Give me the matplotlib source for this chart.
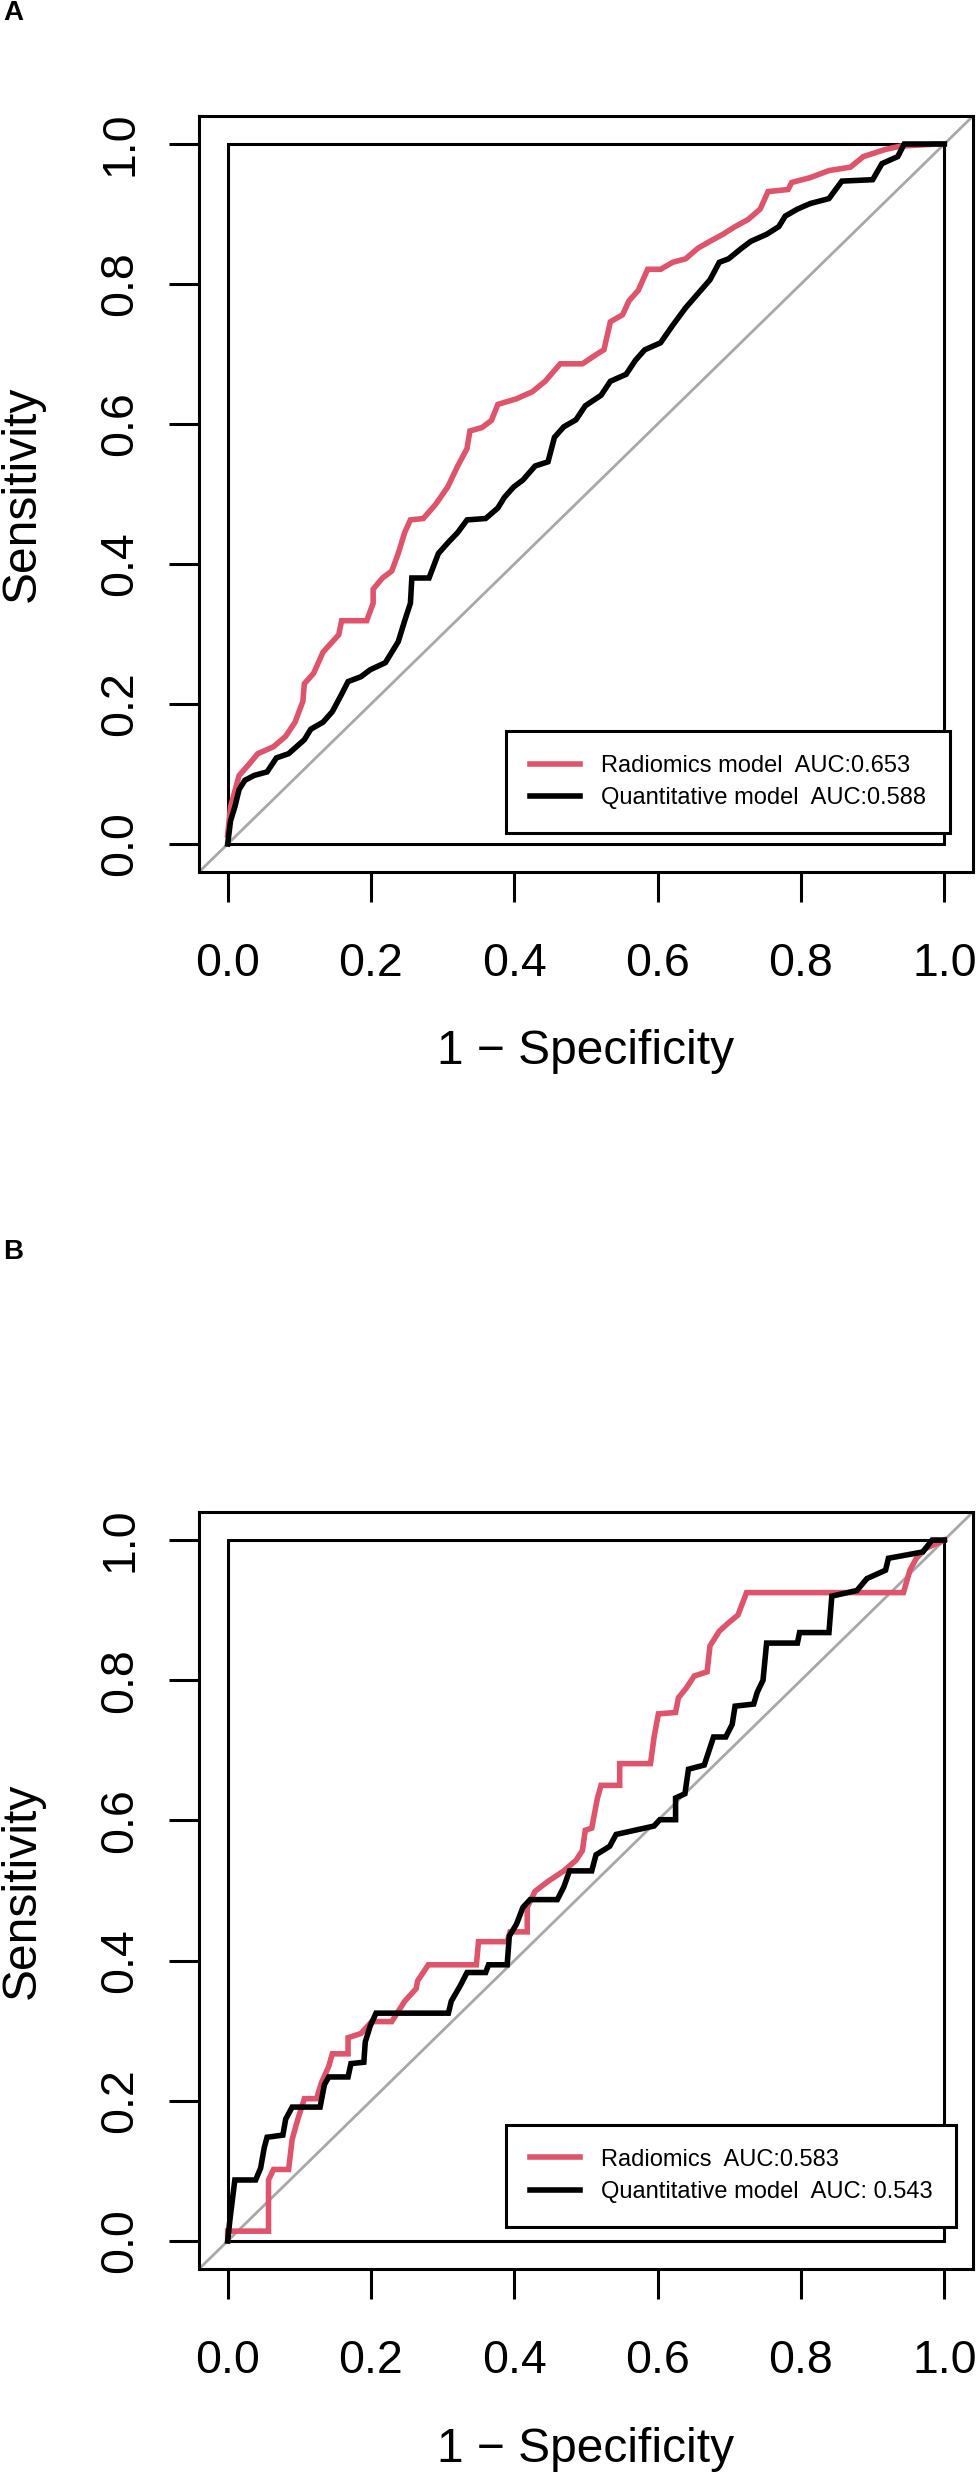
import matplotlib
matplotlib.use("Agg")
import matplotlib.pyplot as plt
from matplotlib.patches import Rectangle

plt.rcParams['font.family'] = ['Liberation Sans', 'DejaVu Sans']

# ---------------- data ----------------
# Panel A
a_rad_fpr = [0, 0.004, 0.016, 0.029, 0.042, 0.064, 0.081, 0.094, 0.105, 0.107, 0.12, 0.133,
             0.155, 0.159, 0.194, 0.203, 0.203, 0.216, 0.229, 0.238, 0.247, 0.255, 0.273,
             0.290, 0.307, 0.321, 0.334, 0.338, 0.355, 0.368, 0.377, 0.403, 0.425, 0.443,
             0.464, 0.495, 0.517, 0.525, 0.534, 0.551, 0.560, 0.573, 0.586, 0.604, 0.621,
             0.639, 0.656, 0.673, 0.691, 0.708, 0.726, 0.743, 0.754, 0.782, 0.787, 0.813,
             0.839, 0.869, 0.887, 0.917, 0.939, 0.991, 1.0]
a_rad_tpr = [0.013, 0.053, 0.098, 0.113, 0.129, 0.139, 0.154, 0.174, 0.204, 0.229, 0.244, 0.274,
             0.299, 0.319, 0.319, 0.344, 0.364, 0.380, 0.390, 0.415, 0.445, 0.463, 0.465,
             0.485, 0.510, 0.540, 0.565, 0.590, 0.595, 0.605, 0.628, 0.636, 0.646, 0.661,
             0.686, 0.686, 0.701, 0.706, 0.746, 0.756, 0.776, 0.791, 0.821, 0.821, 0.831,
             0.836, 0.851, 0.861, 0.871, 0.882, 0.892, 0.907, 0.932, 0.935, 0.945, 0.952,
             0.962, 0.967, 0.982, 0.992, 0.997, 1.0, 1.0]

a_qua_fpr = [0, 0.004, 0.010, 0.016, 0.024, 0.037, 0.055, 0.068, 0.085, 0.107, 0.116, 0.133,
             0.146, 0.159, 0.168, 0.186, 0.199, 0.220, 0.238, 0.247, 0.255, 0.257, 0.281,
             0.294, 0.307, 0.321, 0.334, 0.360, 0.377, 0.386, 0.399, 0.412, 0.429, 0.447,
             0.456, 0.469, 0.486, 0.499, 0.521, 0.534, 0.556, 0.569, 0.582, 0.604, 0.621,
             0.639, 0.656, 0.673, 0.686, 0.699, 0.717, 0.730, 0.752, 0.769, 0.778, 0.795,
             0.813, 0.839, 0.857, 0.900, 0.913, 0.935, 0.944, 1.0]
a_qua_tpr = [0, 0.033, 0.053, 0.078, 0.091, 0.098, 0.103, 0.123, 0.129, 0.149, 0.164, 0.174,
             0.189, 0.214, 0.232, 0.239, 0.249, 0.259, 0.289, 0.319, 0.344, 0.380, 0.380,
             0.415, 0.430, 0.445, 0.463, 0.465, 0.480, 0.495, 0.510, 0.520, 0.540, 0.546,
             0.581, 0.596, 0.606, 0.626, 0.641, 0.661, 0.671, 0.691, 0.706, 0.716, 0.741,
             0.766, 0.786, 0.806, 0.831, 0.836, 0.851, 0.861, 0.871, 0.882, 0.897, 0.907,
             0.915, 0.922, 0.947, 0.949, 0.972, 0.982, 1.0, 1.0]

a_labels = ["Radiomics model  AUC:0.653", "Quantitative model  AUC:0.588"]

# Panel B
b_rad_fpr = [0, 0, 0.057, 0.057, 0.064, 0.085, 0.090, 0.098, 0.107, 0.124, 0.131, 0.141,
             0.146, 0.168, 0.168, 0.186, 0.201, 0.229, 0.247, 0.263, 0.265, 0.280, 0.347,
             0.350, 0.390, 0.394, 0.418, 0.418, 0.429, 0.447, 0.469, 0.486, 0.495, 0.499,
             0.508, 0.516, 0.521, 0.547, 0.547, 0.590, 0.595, 0.601, 0.625, 0.629, 0.640,
             0.651, 0.669, 0.673, 0.686, 0.699, 0.712, 0.724, 0.943, 0.952, 0.961, 0.974, 1.0]
b_rad_tpr = [0, 0.014, 0.014, 0.087, 0.102, 0.102, 0.145, 0.174, 0.203, 0.203, 0.226, 0.249,
             0.267, 0.267, 0.290, 0.296, 0.313, 0.313, 0.342, 0.360, 0.371, 0.394, 0.394,
             0.427, 0.427, 0.441, 0.441, 0.476, 0.499, 0.513, 0.528, 0.543, 0.557, 0.586,
             0.589, 0.632, 0.650, 0.650, 0.681, 0.681, 0.719, 0.752, 0.754, 0.775, 0.789,
             0.806, 0.812, 0.849, 0.870, 0.882, 0.893, 0.925, 0.925, 0.957, 0.974, 0.988, 1.0]

b_qua_fpr = [0, 0.003, 0.010, 0.039, 0.046, 0.051, 0.055, 0.077, 0.081, 0.090, 0.129, 0.135,
             0.141, 0.168, 0.172, 0.190, 0.192, 0.199, 0.207, 0.308, 0.312, 0.325, 0.334,
             0.360, 0.364, 0.390, 0.393, 0.403, 0.412, 0.422, 0.460, 0.469, 0.477, 0.508,
             0.514, 0.533, 0.542, 0.595, 0.603, 0.625, 0.625, 0.638, 0.643, 0.665, 0.678,
             0.695, 0.704, 0.708, 0.734, 0.739, 0.747, 0.752, 0.795, 0.798, 0.839, 0.843,
             0.878, 0.892, 0.918, 0.922, 0.970, 0.983, 1.0]
b_qua_tpr = [0, 0.029, 0.087, 0.087, 0.104, 0.133, 0.148, 0.151, 0.174, 0.191, 0.191, 0.223,
             0.234, 0.234, 0.253, 0.255, 0.284, 0.307, 0.325, 0.325, 0.342, 0.365, 0.383,
             0.383, 0.394, 0.394, 0.435, 0.452, 0.476, 0.487, 0.487, 0.505, 0.528, 0.528,
             0.551, 0.563, 0.580, 0.592, 0.601, 0.601, 0.632, 0.638, 0.673, 0.679, 0.719,
             0.719, 0.737, 0.763, 0.766, 0.783, 0.800, 0.853, 0.853, 0.868, 0.868, 0.920,
             0.928, 0.945, 0.957, 0.974, 0.983, 1.0, 1.0]

b_labels = ["Radiomics  AUC:0.583", "Quantitative model  AUC: 0.543"]

ticks = [0.0, 0.2, 0.4, 0.6, 0.8, 1.0]
tick_labels = ["0.0", "0.2", "0.4", "0.6", "0.8", "1.0"]

RED = '#DF536B'
W, H = 978, 2473


def roc_panel(ax, rad, qua, labels, leg_anchor):
    ax.set_xlim(-0.04, 1.04)
    ax.set_ylim(-0.04, 1.04)
    ax.axline((0, 0), (1, 1), color='#A8A8A8', lw=2.0, zorder=1)
    ax.add_patch(Rectangle((0, 0), 1, 1, fill=False, ec='black', lw=2.2, zorder=2))
    ax.plot(rad[0], rad[1], color=RED, lw=4.0, zorder=3, label=labels[0],
            solid_joinstyle='miter')
    ax.plot(qua[0], qua[1], color='black', lw=4.0, zorder=4, label=labels[1],
            solid_joinstyle='miter')

    for s in ax.spines.values():
        s.set_linewidth(2.2)
    ax.set_xticks(ticks)
    ax.set_yticks(ticks)
    ax.set_xticklabels(tick_labels)
    ax.set_yticklabels(tick_labels)
    ax.tick_params(direction='out', length=21.6, width=2.2, labelsize=33.5)
    ax.tick_params(axis='x', pad=29)
    ax.tick_params(axis='y', pad=19)
    for lab in ax.get_yticklabels():
        lab.set_rotation(90)
        lab.set_va('center')

    ax.set_xlabel("1 \u2212 Specificity", fontsize=34.5)
    ax.set_ylabel("Sensitivity", fontsize=34.5)
    ax.xaxis.label.set_va('center')
    ax.yaxis.label.set_va('center')
    ax.xaxis.set_label_coords(0.5, -0.238)
    ax.yaxis.set_label_coords((22 - 199) / 774, 0.5)

    leg = ax.legend(loc='lower left', bbox_to_anchor=leg_anchor, bbox_transform=ax.transData,
                    borderaxespad=0, fontsize=17, frameon=True, fancybox=False,
                    framealpha=1, edgecolor='black', handlelength=2.1, handletextpad=0.9,
                    borderpad=1.0, labelspacing=0.45)
    leg.get_frame().set_linewidth(2.2)
    for h in leg.get_lines():
        h.set_linewidth(4.0)


fig = plt.figure(figsize=(W / 100, H / 100), dpi=100)

ax_a = fig.add_axes([199 / W, 1 - 872 / H, 774 / W, 756 / H])
roc_panel(ax_a, (a_rad_fpr, a_rad_tpr), (a_qua_fpr, a_qua_tpr), a_labels, (0.389, 0.0157))

ax_b = fig.add_axes([199 / W, 1 - 2269 / H, 774 / W, 757 / H])
roc_panel(ax_b, (b_rad_fpr, b_rad_tpr), (b_qua_fpr, b_qua_tpr), b_labels, (0.389, 0.02))

fig.text(3 / W, 1 - 13.5 / H, "A", fontsize=20, fontweight='bold', va='center', ha='left')
fig.text(3 / W, 1 - 1252 / H, "B", fontsize=20, fontweight='bold', va='center', ha='left')

fig.savefig("out.png", dpi=100)
